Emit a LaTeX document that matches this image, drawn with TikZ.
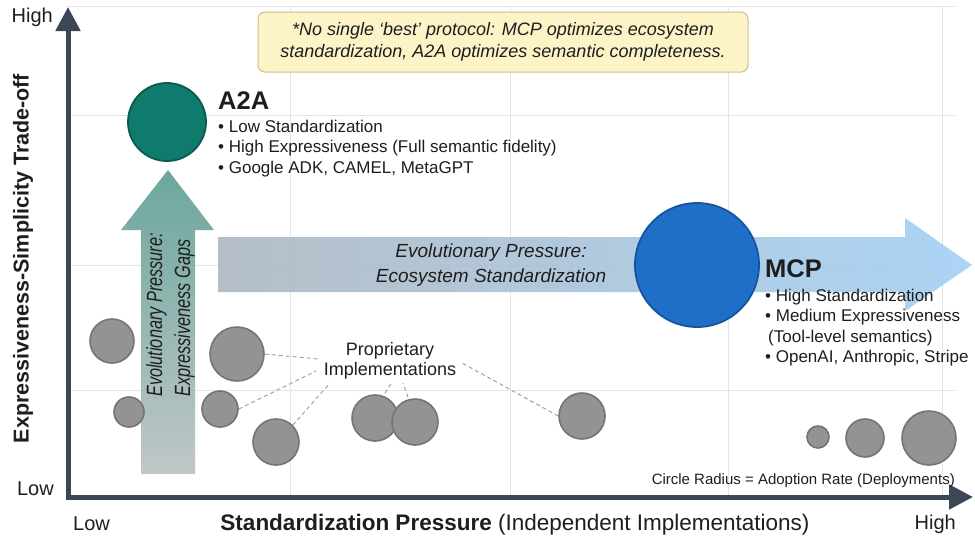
\documentclass[tikz,border=0pt]{standalone}
\usepackage{fontspec}
\setmainfont{Liberation Sans}
\usetikzlibrary{arrows.meta}

\definecolor{axiscol}{HTML}{3B4656}
\definecolor{gridcol}{HTML}{E4E4E4}
\definecolor{txt}{HTML}{1E1E1E}
\definecolor{tealfill}{HTML}{0F7B6C}
\definecolor{tealedge}{HTML}{0A5A4F}
\definecolor{bluefill}{HTML}{1F6FC9}
\definecolor{blueedge}{HTML}{17549C}
\definecolor{grayfill}{HTML}{939393}
\definecolor{grayedge}{HTML}{747474}
\definecolor{notefill}{HTML}{FCF3C6}
\definecolor{noteedge}{HTML}{CDBF8C}
\definecolor{hleft}{HTML}{AEB8C2}
\definecolor{hright}{HTML}{A3D0F4}
\definecolor{vtop}{HTML}{5C9E94}
\definecolor{vbottom}{HTML}{BAC1C1}
\definecolor{leadercol}{HTML}{9A9A9A}

\newcommand{\fsz}[2]{\fontsize{#1}{#2}\selectfont}

\tikzset{
  gridline/.style={gridcol, line width=1pt},
  axisline/.style={axiscol, line width=5pt, line join=miter,
    {Triangle[length=24pt,width=24pt]}-{Triangle[length=24pt,width=24pt]}},
  impl/.style={circle, draw=grayedge, fill=grayfill, line width=1.6pt, inner sep=0pt},
  leader/.style={leadercol, dashed, dash pattern=on 4pt off 3pt, line width=0.9pt},
  ticklabel/.style={font=\fsz{20}{24}, text=txt, inner sep=0pt},
  bullets/.style={font=\fsz{17}{20.5}, text=txt, inner sep=0pt},
  protoname/.style={font=\fsz{25.5}{30}\bfseries, text=txt, inner sep=0pt},
  flowtext/.style={font=\fsz{19}{25}\itshape, text=txt, inner sep=0pt},
}

\begin{document}
\begin{tikzpicture}[x=1pt,y=-1pt]
\useasboundingbox (0,0) rectangle (975,541);
\fill[white] (0,0) rectangle (975,541);

% background grid
\foreach \gx in {290,510,728,942}
  \draw[gridline] (\gx,6) -- (\gx,497);
\foreach \gy in {6,115,265,390}
  \draw[gridline] (68,\gy) -- (955,\gy);

% note box
\node[draw=noteedge, fill=notefill, rounded corners=7pt, line width=1pt,
      minimum width=490pt, minimum height=60pt, align=center,
      font=\fsz{18}{22}\itshape, text=txt] (note) at (503,42)
  {*No single ‘best’ protocol: MCP optimizes ecosystem\\
   standardization, A2A optimizes semantic completeness.};

% evolutionary pressure arrows
\shade[left color=hleft, right color=hright, opacity=0.9]
  (218,237) -- (905,237) -- (905,218) -- (972,265) -- (905,311)
  -- (905,292) -- (218,292) -- cycle;
\shade[top color=vtop, bottom color=vbottom, opacity=0.9]
  (141,474) -- (141,230) -- (121,230) -- (168,170) -- (214,230)
  -- (195,230) -- (195,474) -- cycle;

\node[flowtext, align=center] (hflow) at (491,265)
  {Evolutionary Pressure:\\Ecosystem Standardization};
\node[flowtext, font=\fsz{22}{28}\itshape, align=left, rotate=90, xscale=0.74,
      anchor=base west] (vflow) at (190,397)
  {Evolutionary Pressure:\\Expressiveness Gaps};

% axes
\draw[axisline] (68,7) -- (68,497) -- (973,497);

% axis labels
\node[ticklabel, anchor=base east] (yhigh) at (53,22) {High};
\node[ticklabel, anchor=base east] (ylow) at (54,495) {Low};
\node[ticklabel, anchor=base west] (xlow) at (73,530) {Low};
\node[ticklabel, anchor=base east] (xhigh) at (956,529) {High};
\node[font=\fsz{22.5}{26}, text=txt, anchor=base, inner sep=0pt] (xtitle) at (515,530)
  {\textbf{Standardization Pressure} (Independent Implementations)};
\node[font=\fsz{21.5}{25}\bfseries, text=txt, rotate=90, anchor=base, inner sep=0pt]
  (ytitle) at (28.5,258.5) {Expressiveness-Simplicity Trade-off};

% protocols
\node[circle, draw=tealedge, fill=tealfill, line width=1.8pt, minimum size=78pt, inner sep=0pt]
  (a2a) at (167,122) {};
\node[protoname, anchor=base west] (a2aname) at (218,109) {A2A};
\node[bullets, anchor=base west] (a2atext) at (218,132)
  {\begin{tabular}[t]{@{}l@{}}
   • Low Standardization\\
   • High Expressiveness (Full semantic fidelity)\\
   • Google ADK, CAMEL, MetaGPT
   \end{tabular}};

\node[circle, draw=blueedge, fill=bluefill, line width=1.8pt, minimum size=124pt, inner sep=0pt]
  (mcp) at (697,265) {};
\node[protoname, anchor=base west] (mcpname) at (765,277) {MCP};
\node[bullets, anchor=base west] (mcptext) at (765,301)
  {\begin{tabular}[t]{@{}l@{}}
   • High Standardization\\
   • Medium Expressiveness\\
   \hspace*{3pt}(Tool-level semantics)\\
   • OpenAI, Anthropic, Stripe
   \end{tabular}};

% proprietary implementations
\node[impl, minimum size=44pt] (p1) at (112,341) {};
\node[impl, minimum size=30pt] (p2) at (129,412) {};
\node[impl, minimum size=54pt] (p3) at (237,354) {};
\node[impl, minimum size=36pt] (p4) at (220,409) {};
\node[impl, minimum size=46pt] (p5) at (276,442) {};
\node[impl, minimum size=46pt] (p6) at (375,418) {};
\node[impl, minimum size=46pt] (p7) at (415,422) {};
\node[impl, minimum size=46pt] (p8) at (582,416) {};
\node[impl, minimum size=22pt] (p9) at (818,437) {};
\node[impl, minimum size=38pt] (p10) at (865,438) {};
\node[impl, minimum size=54pt] (p11) at (929,438) {};

\node[font=\fsz{18}{20.5}, text=txt, align=center, inner sep=0pt] (prop) at (390,361)
  {Proprietary\\Implementations};

\coordinate (l3) at (318,359);
\coordinate (l4) at (316,371);
\coordinate (l5) at (330,383);
\coordinate (l6) at (392,382);
\coordinate (l7) at (403,383);
\coordinate (l8) at (462,363);
\draw[leader] (p3.east) -- (l3);
\draw[leader] (p4.east) -- (l4);
\draw[leader] (p5.north east) -- (l5);
\draw[leader] (p6.north) ++(10,-1) -- (l6);
\draw[leader] (p7.north) ++(-7,-1) -- (l7);
\draw[leader] (p8.west) -- (l8);

% legend
\node[font=\fsz{15}{18}, text=txt, anchor=base east, inner sep=0pt] (legend) at (955,484)
  {Circle Radius = Adoption Rate (Deployments)};
\end{tikzpicture}
\end{document}
